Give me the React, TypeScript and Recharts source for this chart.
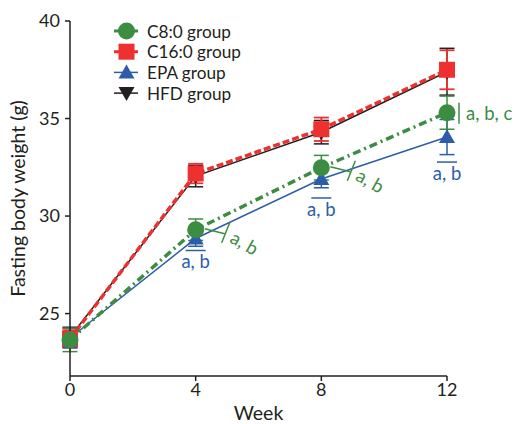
import React from 'react';
import { LineChart, Line, XAxis, YAxis, ErrorBar } from 'recharts';

const weeks = [0, 4, 8, 12];
const c8 = [23.65, 29.3, 32.48, 35.3];
const c8Err = [0.6, 0.55, 0.63, 0.85];
const c16 = [23.7, 32.18, 34.45, 37.5];
const c16Err = [0.45, 0.5, 0.6, 1.0];
const epa = [23.75, 28.85, 31.9, 34.05];
const epaErr = [0.5, 0.4, 0.45, 0.9];
const hfd = [23.8, 32.05, 34.3, 37.4];
const hfdErr = [0.5, 0.55, 0.6, 1.2];
const c8Notes = ['', 'a, b', 'a, b', 'a, b, c'];
const epaNotes = ['', 'a, b', 'a, b', 'a, b'];
const yTicks = [25, 30, 35, 40];
const xTicks = [0, 4, 8, 12];
const seriesNames = ['C8:0 group', 'C16:0 group', 'EPA group', 'HFD group'];

const data = weeks.map((w, i) => ({
  week: w,
  c8: c8[i], c8Err: c8Err[i],
  c16: c16[i], c16Err: c16Err[i],
  epa: epa[i], epaErr: epaErr[i],
  hfd: hfd[i], hfdErr: hfdErr[i],
}));

const GREEN = '#3C8C42';
const RED = '#EE3030';
const BLUE = '#2D5DAA';
const BLACK = '#231F20';
const FONT = "Lato, 'Open Sans', sans-serif";
const NOTE = 18.5;

const Circle = ({ cx, cy, c }: any) => <circle cx={cx} cy={cy} r={8.5} fill={c} />;
const Square = ({ cx, cy, c }: any) => <rect x={cx - 8} y={cy - 8} width={16} height={16} fill={c} />;
const TriUp = ({ cx, cy, c }: any) => (
  <polygon points={`${cx},${cy - 8} ${cx + 8},${cy + 6} ${cx - 8},${cy + 6}`} fill={c} />
);
const TriDown = ({ cx, cy, c }: any) => (
  <polygon points={`${cx},${cy + 8} ${cx + 8},${cy - 6} ${cx - 8},${cy - 6}`} fill={c} />
);

const greenNote = (props: any) => {
  const { x, y, index } = props;
  const t = c8Notes[index];
  if (!t) return null;
  if (index === 3) {
    return (
      <g key={`gn${index}`}>
        <line x1={x + 12} y1={y - 10} x2={x + 12} y2={y + 11} stroke={GREEN} strokeWidth={1.5} />
        <text x={x + 19} y={y} fill={GREEN} fontSize={NOTE} fontFamily={FONT} dominantBaseline="central">{t}</text>
      </g>
    );
  }
  return (
    <g key={`gn${index}`}>
      <line x1={x + 9} y1={y - 1} x2={x + 29} y2={y + 4} stroke={GREEN} strokeWidth={1.5} />
      <line x1={x + 34} y1={y - 7} x2={x + 26} y2={y + 13} stroke={GREEN} strokeWidth={1.5} />
      <text
        x={x + 49}
        y={y + 13}
        fill={GREEN}
        fontSize={NOTE}
        fontFamily={FONT}
        textAnchor="middle"
        dominantBaseline="central"
        transform={`rotate(30, ${x + 49}, ${y + 13})`}
      >
        {t}
      </text>
    </g>
  );
};

const blueOffsets = [0, 12, 19, 25];
const blueNote = (props: any) => {
  const { x, y, index } = props;
  const t = epaNotes[index];
  if (!t) return null;
  const o = blueOffsets[index];
  return (
    <g key={`bn${index}`}>
      <line x1={x - 10} y1={y + o} x2={x + 10} y2={y + o} stroke={BLUE} strokeWidth={1.5} />
      <text x={x} y={y + o + 11} fill={BLUE} fontSize={NOTE} fontFamily={FONT} textAnchor="middle" dominantBaseline="central">{t}</text>
    </g>
  );
};

const LegendBox = () => {
  const rows = [
    { c: GREEN, w: 3, m: (cx: number, cy: number) => <Circle cx={cx} cy={cy} c={GREEN} /> },
    { c: RED, w: 3, m: (cx: number, cy: number) => <Square cx={cx} cy={cy} c={RED} /> },
    { c: BLUE, w: 1.5, m: (cx: number, cy: number) => <TriUp cx={cx} cy={cy} c={BLUE} /> },
    { c: BLACK, w: 1.5, m: (cx: number, cy: number) => <TriDown cx={cx} cy={cy} c={BLACK} /> },
  ];
  return (
    <svg width={200} height={96} style={{ display: 'block' }}>
      {rows.map((r, i) => {
        const cy = 11 + 20.7 * i;
        return (
          <g key={i}>
            <line x1={4} y1={cy} x2={28} y2={cy} stroke={r.c} strokeWidth={r.w} />
            {r.m(16.5, cy)}
            <text x={37} y={cy} fontSize={17.2} fontFamily={FONT} fill={BLACK} dominantBaseline="central">{seriesNames[i]}</text>
          </g>
        );
      })}
    </svg>
  );
};

export default function App() {
  return (
    <div style={{ position: 'absolute', left: 0, top: 0, width: 519, height: 424, background: '#fff' }}>
      <LineChart width={519} height={424} data={data} margin={{ top: 21, right: 72, bottom: 2, left: 10 }}>
        <XAxis
          dataKey="week"
          type="number"
          domain={[0, 12]}
          ticks={xTicks}
          height={46}
          tickSize={5}
          stroke={BLACK}
          strokeWidth={1.5}
          tick={{ fill: BLACK, fontSize: 18, fontFamily: FONT }}
          label={{ value: 'Week', position: 'insideBottom', offset: 2, fill: BLACK, fontSize: 19.5, fontFamily: FONT }}
        />
        <YAxis
          type="number"
          domain={[21.8, 40]}
          ticks={yTicks}
          width={60}
          tickSize={5}
          tickMargin={5}
          stroke={BLACK}
          strokeWidth={1.5}
          allowDataOverflow
          tick={{ fill: BLACK, fontSize: 18, fontFamily: FONT }}
          label={{ value: 'Fasting body weight (g)', angle: -90, position: 'insideLeft', offset: 8, fill: BLACK, fontSize: 19.5, fontFamily: FONT, style: { textAnchor: 'middle' } }}
        />
        <Line
          dataKey="hfd"
          stroke={BLACK}
          strokeWidth={1.5}
          isAnimationActive={false}
          dot={(p: any) => <TriDown key={`h${p.index}`} cx={p.cx} cy={p.cy} c={BLACK} />}
        >
          <ErrorBar dataKey="hfdErr" width={7.5} stroke={BLACK} strokeWidth={1.5} direction="y" />
        </Line>
        <Line
          dataKey="c16"
          stroke={RED}
          strokeWidth={3.5}
          strokeDasharray="7 3"
          isAnimationActive={false}
          dot={(p: any) => <Square key={`r${p.index}`} cx={p.cx} cy={p.cy} c={RED} />}
        >
          <ErrorBar dataKey="c16Err" width={7.5} stroke={RED} strokeWidth={1.8} direction="y" />
        </Line>
        <Line
          dataKey="epa"
          stroke={BLUE}
          strokeWidth={1.5}
          isAnimationActive={false}
          dot={(p: any) => <TriUp key={`b${p.index}`} cx={p.cx} cy={p.cy} c={BLUE} />}
          label={blueNote}
        >
          <ErrorBar dataKey="epaErr" width={7.5} stroke={BLUE} strokeWidth={1.5} direction="y" />
        </Line>
        <Line
          dataKey="c8"
          stroke={GREEN}
          strokeWidth={3.5}
          strokeDasharray="8 4 2 4"
          isAnimationActive={false}
          dot={(p: any) => <Circle key={`g${p.index}`} cx={p.cx} cy={p.cy} c={GREEN} />}
          label={greenNote}
        >
          <ErrorBar dataKey="c8Err" width={7.5} stroke={GREEN} strokeWidth={1.5} direction="y" />
        </Line>
      </LineChart>
      <div style={{ position: 'absolute', left: 110, top: 20 }}>
        <LegendBox />
      </div>
    </div>
  );
}
